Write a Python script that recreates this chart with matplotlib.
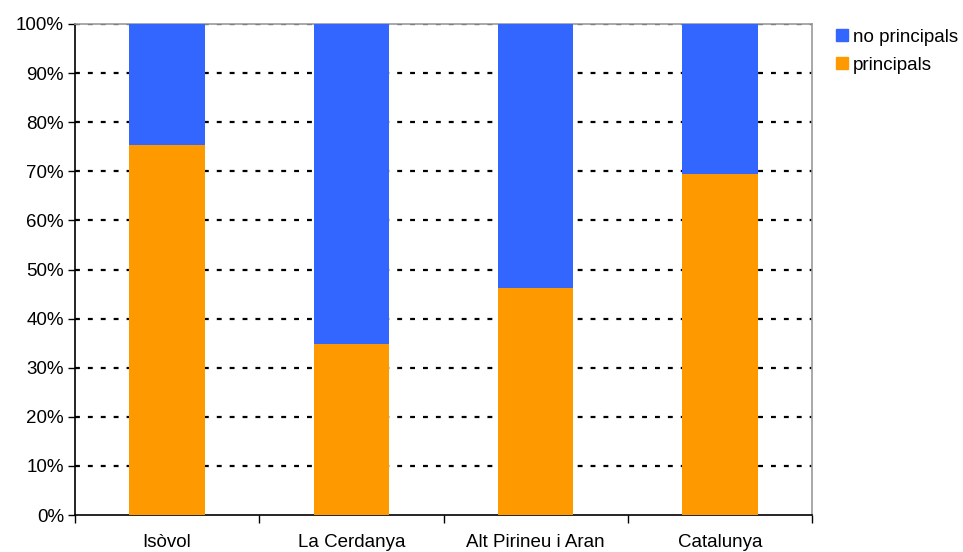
import numpy as np
import matplotlib.pyplot as plt
from matplotlib.lines import Line2D

# dades
categories = ["Isòvol", "La Cerdanya", "Alt Pirineu i Aran", "Catalunya"]
principals = [75.3, 34.9, 46.2, 69.5]  # %
no_principals = [100 - v for v in principals]
y_ticks = list(range(0, 101, 10))

plt.rcParams['font.family'] = ['Liberation Sans', 'DejaVu Sans']
FS = 13.5

fig = plt.figure(figsize=(9.63, 5.52), dpi=100)
ax = fig.add_axes([75 / 963, 1 - 515 / 552, 737 / 963, 491 / 552])

x = np.arange(len(categories))
ax.bar(x, principals, width=0.41, color="#FF9900", zorder=3)
ax.bar(x, no_principals, width=0.41, bottom=principals, color="#3366FF", zorder=3)

ax.set_xlim(-0.5, len(categories) - 0.5)
ax.set_ylim(0, 100)
ax.set_yticks(y_ticks)
ax.set_yticklabels([f"{v}%" for v in y_ticks], fontsize=FS)
for v in y_ticks[1:]:
    ax.axhline(v, color="black", lw=1.6, linestyle=(0, (2.2, 3.6)), zorder=1)

# ticks on the category boundaries, labels in the middle
ax.set_xticks(np.arange(-0.5, len(categories), 1.0))
ax.set_xticklabels([])
ax.set_xticks(x, minor=True)
ax.set_xticklabels(categories, minor=True, fontsize=FS)
ax.tick_params(axis="x", which="major", direction="out", length=6, width=1)
ax.tick_params(axis="x", which="minor", length=0, pad=14)
ax.tick_params(axis="y", direction="out", length=5, width=1, pad=3)

for s in ["top", "right"]:
    ax.spines[s].set_color("#999999")
    ax.spines[s].set_linewidth(1.2)
for s in ["left", "bottom"]:
    ax.spines[s].set_color("black")
    ax.spines[s].set_linewidth(1.2)

handles = [
    Line2D([], [], marker="s", color="#3366FF", linestyle="none", markersize=8),
    Line2D([], [], marker="s", color="#FF9900", linestyle="none", markersize=8),
]
fig.legend(handles, ["no principals", "principals"], loc="upper left",
           bbox_to_anchor=(821 / 963, 1 - 19 / 552), frameon=False,
           fontsize=FS, handletextpad=0.0, labelspacing=0.6,
           borderpad=0, handlelength=1.2)

fig.savefig("out.png", dpi=100)
